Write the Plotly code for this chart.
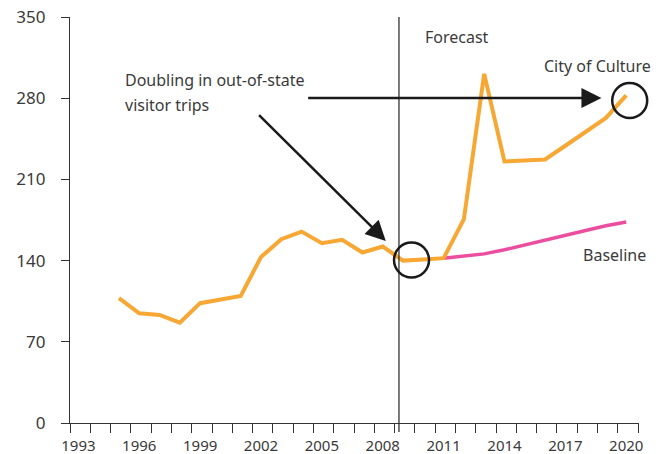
import plotly.graph_objects as go

# ---- data ----
years = list(range(1995, 2021))
city_of_culture = [107.6, 94.6, 93.2, 86.5, 103.3, 106.5, 109.6, 143.0, 158.5, 165.0,
                   155.0, 157.9, 147.0, 152.1, 140.0, 141.0, 142.1, 175.7, 301.0, 225.4,
                   226.4, 227.2, 239.0, 251.0, 263.0, 282.4]
baseline_years = list(range(2011, 2021))
baseline = [142.1, 144.0, 145.8, 149.3, 153.6, 157.9, 162.2, 166.0, 170.0, 173.2]

x_tick_labels = [1993, 1996, 1999, 2002, 2005, 2008, 2011, 2014, 2017, 2020]
y_ticks = [0, 70, 140, 210, 280, 350]

forecast_start = 2008.8
highlight_start = 2009
highlight_end = 2020

ORANGE = "#F7A733"
PINK = "#EC4E9F"
TXT = "#3a3a3a"
AX = "#333333"
FONT = "Noto Sans"

fig = go.Figure()
fig.add_trace(go.Scatter(x=baseline_years, y=baseline, mode="lines",
                         line=dict(color=PINK, width=3.5), hoverinfo="skip"))
fig.add_trace(go.Scatter(x=years, y=city_of_culture, mode="lines",
                         line=dict(color=ORANGE, width=4), hoverinfo="skip"))

x_lo = 1992.586
x_hi = 2020.63
y_lo, y_hi = 0, 350

fig.update_layout(
    width=664, height=454,
    margin=dict(l=70, r=25, t=17.3, b=31, autoexpand=False),
    paper_bgcolor="white", plot_bgcolor="white",
    showlegend=False,
    font=dict(family=FONT, color=TXT),
    xaxis=dict(range=[x_lo, x_hi], showgrid=False, zeroline=False, automargin=False,
               showline=True, linecolor=AX, linewidth=1.3,
               tickmode="array", tickvals=x_tick_labels,
               ticktext=[str(v) for v in x_tick_labels],
               ticks="outside", ticklen=0, tickcolor=AX,
               ticklabelstandoff=9, ticklabeloverflow="allow",
               tickfont=dict(size=15, color=TXT, family=FONT),
               minor=dict(ticks="outside", ticklen=9, tickwidth=1.3, tickcolor=AX,
                          tick0=x_lo, dtick=1, showgrid=False)),
    yaxis=dict(range=[y_lo, y_hi], showgrid=False, zeroline=False, automargin=False,
               showline=True, linecolor=AX, linewidth=1.3,
               tickmode="array", tickvals=y_ticks,
               ticks="outside", ticklen=8, tickwidth=1.3, tickcolor=AX,
               ticklabelstandoff=12, ticklabeloverflow="allow",
               tickfont=dict(size=17, color=TXT, family=FONT)),
)

# forecast divider
fig.add_shape(type="line", xref="x", yref="paper", x0=forecast_start, x1=forecast_start,
              y0=-0.022, y1=1, line=dict(color=AX, width=1.3))

# highlight circles (paper-referenced so they are not clipped at the plot edge)
def px(xv):
    return (xv - x_lo) / (x_hi - x_lo)

def py(yv):
    return (yv - y_lo) / (y_hi - y_lo)

fig.add_shape(type="circle", xref="paper", yref="paper",
              xsizemode="pixel", ysizemode="pixel",
              xanchor=px(highlight_start),
              yanchor=py(city_of_culture[years.index(highlight_start)]),
              x0=-9, x1=26, y0=-17, y1=18, line=dict(color="#1a1a1a", width=2.5))
fig.add_shape(type="circle", xref="paper", yref="paper",
              xsizemode="pixel", ysizemode="pixel",
              xanchor=px(highlight_end),
              yanchor=py(city_of_culture[years.index(highlight_end)]),
              x0=-14, x1=21, y0=-22.5, y1=12.5, line=dict(color="#1a1a1a", width=2.5))

# arrows
fig.add_annotation(x=2008.15, y=157, ax=2001.83, ay=266.6, xref="x", yref="y",
                   axref="x", ayref="y", text="", showarrow=True,
                   arrowhead=2, arrowsize=1.6, arrowwidth=2.5, arrowcolor="#1a1a1a",
                   standoff=0)
fig.add_annotation(x=2018.78, y=280.2, ax=2004.25, ay=280.2, xref="x", yref="y",
                   axref="x", ayref="y", text="", showarrow=True,
                   arrowhead=2, arrowsize=1.6, arrowwidth=2.5, arrowcolor="#1a1a1a",
                   standoff=0)

# texts
def label(text, x, y, xanchor="center"):
    fig.add_annotation(x=x, y=y, xref="x", yref="y", text=text, showarrow=False,
                       xanchor=xanchor, yanchor="middle",
                       font=dict(size=16, color=TXT, family=FONT))

label("Doubling in out-of-state", 1995.18, 296, "left")
label("visitor trips", 1995.18, 274.4, "left")
label("Forecast", 2011.65, 332.8)
label("City of Culture", 2018.57, 307.4)
label("Baseline", 2019.4, 145)

fig.write_html("out.html", config={"displayModeBar": False},
               post_script="document.body.style.margin='0';")
